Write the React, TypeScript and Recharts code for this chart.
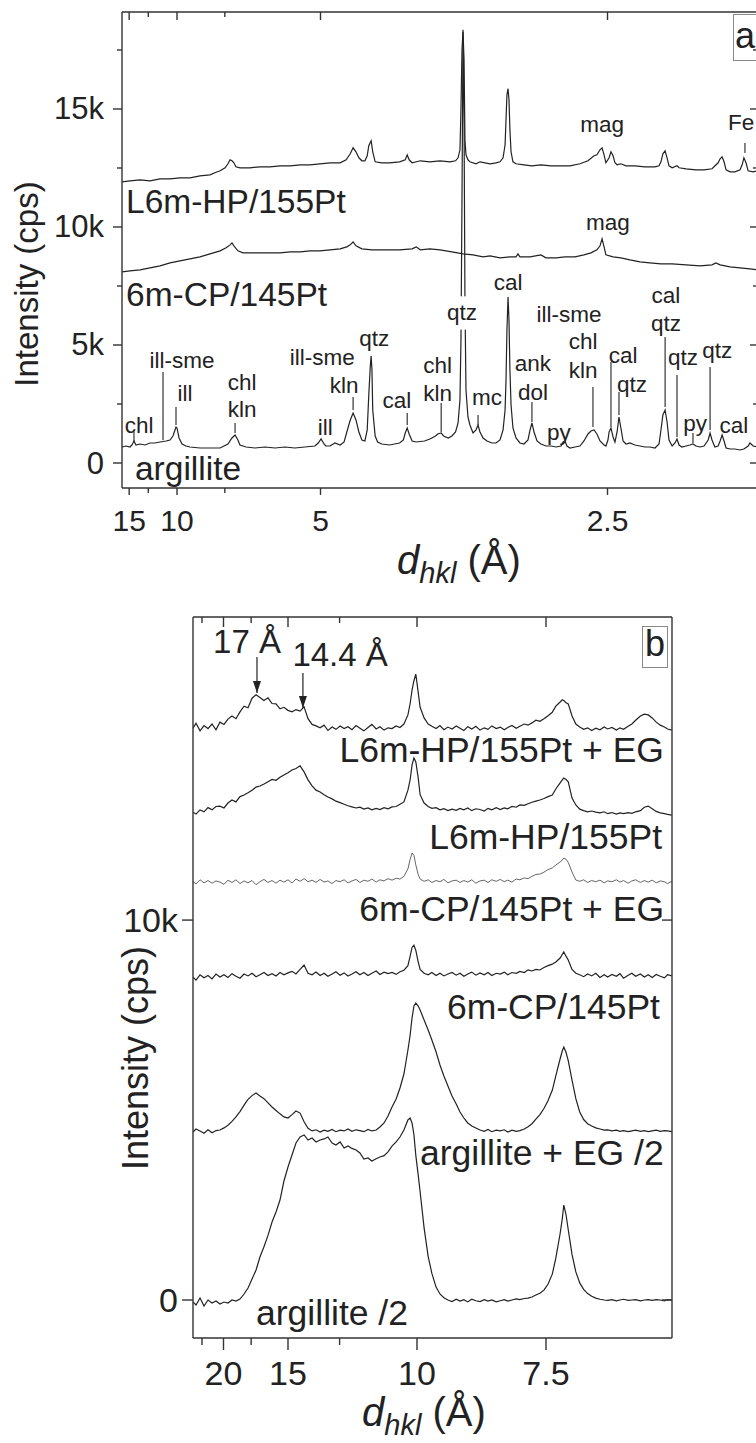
import React from 'react';
import { LineChart, Line, XAxis, YAxis, ReferenceLine, ReferenceDot } from 'recharts';

const FONT = '"Liberation Sans", Arial, Helvetica, sans-serif';
const INK = '#222';
const FRAME = '#333';

// ---------- panel a : [d (Å), intensity (cps)] ----------
const argilliteA: [number, number][] = [
  [16.21, 678], [15.51, 720], [14.87, 678], [14.57, 763], [14.28, 933], [14.0, 763], [13.47, 805], [12.87, 763],
  [12.32, 848], [11.81, 848], [11.34, 890], [10.83, 933], [10.51, 975], [10.29, 1145], [10.14, 1399], [10.07, 1526],
  [10.0, 1484], [9.86, 1060], [9.66, 805], [9.41, 720], [9.17, 678], [8.62, 636], [8.13, 636], [7.69, 636],
  [7.38, 805], [7.23, 1060], [7.12, 1187], [7.02, 975], [6.95, 763], [6.75, 678], [6.48, 636], [6.2, 678],
  [5.94, 636], [5.71, 678], [5.49, 636], [5.29, 678], [5.1, 720], [5.04, 848], [4.99, 1018], [4.94, 805],
  [4.91, 720], [4.84, 720], [4.76, 848], [4.68, 763], [4.62, 890], [4.58, 1314], [4.53, 1823], [4.49, 2120],
  [4.45, 1823], [4.41, 1314], [4.37, 975], [4.33, 933], [4.3, 1399], [4.28, 2883], [4.26, 4155], [4.25, 4537],
  [4.24, 3943], [4.23, 2247], [4.2, 1145], [4.17, 890], [4.12, 805], [4.03, 763], [3.92, 848], [3.88, 975],
  [3.86, 1272], [3.84, 1484], [3.82, 1230], [3.79, 933], [3.75, 890], [3.67, 933], [3.62, 1018], [3.57, 1145],
  [3.55, 1230], [3.52, 1272], [3.5, 1145], [3.46, 1060], [3.43, 1145], [3.4, 1314], [3.38, 1696], [3.365, 2671],
  [3.357, 5215], [3.349, 11151], [3.341, 18359], [3.333, 14543], [3.326, 6911], [3.318, 3095], [3.303, 1950],
  [3.288, 1611], [3.265, 1272], [3.243, 1399], [3.228, 1611], [3.214, 1314], [3.192, 1060], [3.164, 933],
  [3.13, 848], [3.103, 848], [3.076, 975], [3.056, 1399], [3.043, 2247], [3.037, 3519], [3.031, 5639],
  [3.024, 7038], [3.018, 6063], [3.012, 3943], [3.005, 2459], [2.993, 1484], [2.974, 1060], [2.95, 848],
  [2.926, 805], [2.902, 975], [2.89, 1399], [2.879, 1696], [2.867, 1314], [2.85, 933], [2.828, 805], [2.8, 720],
  [2.773, 720], [2.746, 678], [2.72, 720], [2.71, 890], [2.7, 933], [2.69, 720], [2.675, 636], [2.65, 678],
  [2.626, 720], [2.607, 933], [2.588, 1230], [2.574, 1357], [2.56, 1399], [2.547, 1230], [2.533, 933],
  [2.515, 763], [2.507, 720], [2.498, 975], [2.493, 1314], [2.485, 1484], [2.476, 1102], [2.468, 890],
  [2.459, 1314], [2.451, 1950], [2.443, 1484], [2.434, 933], [2.422, 805], [2.406, 848], [2.386, 763],
  [2.366, 720], [2.347, 678], [2.328, 678], [2.309, 636], [2.294, 805], [2.287, 1399], [2.28, 2035],
  [2.272, 2247], [2.265, 1738], [2.258, 975], [2.247, 720], [2.237, 848], [2.23, 1018], [2.223, 763],
  [2.213, 678], [2.199, 720], [2.186, 763], [2.176, 805], [2.166, 720], [2.153, 678], [2.14, 720], [2.127, 975],
  [2.121, 1272], [2.115, 975], [2.106, 678], [2.096, 720], [2.09, 933], [2.084, 1187], [2.078, 933],
  [2.072, 636], [2.06, 593], [2.046, 593], [2.031, 551], [2.02, 593], [2.008, 720], [2.003, 848], [1.994, 720],
  [1.981, 678],
];

const cpA: [number, number][] = [
  [16.21, 8098], [14.87, 8141], [13.47, 8183], [12.32, 8268], [11.34, 8353], [10.51, 8480], [9.8, 8565],
  [9.17, 8650], [8.62, 8734], [8.13, 8862], [7.69, 8989], [7.45, 9116], [7.3, 9243], [7.23, 9328], [7.16, 9201],
  [7.02, 8989], [6.85, 8904], [6.63, 8904], [6.34, 8904], [6.07, 8904], [5.82, 8904], [5.59, 8946], [5.38, 8946],
  [5.19, 8989], [5.01, 8989], [4.84, 9031], [4.68, 9074], [4.58, 9158], [4.53, 9243], [4.49, 9370], [4.45, 9201],
  [4.37, 9074], [4.24, 9031], [4.12, 9031], [3.92, 9031], [3.79, 9074], [3.75, 9158], [3.71, 9031], [3.62, 9074],
  [3.53, 9031], [3.43, 8946], [3.341, 8862], [3.265, 8819], [3.192, 8734], [3.143, 8777], [3.076, 8692],
  [3.012, 8734], [2.974, 8734], [2.962, 8862], [2.95, 8734], [2.89, 8734], [2.828, 8819], [2.8, 8692],
  [2.746, 8692], [2.7, 8734], [2.65, 8734], [2.607, 8819], [2.574, 8904], [2.547, 9031], [2.533, 9201],
  [2.524, 9498], [2.515, 9158], [2.507, 8819], [2.476, 8734], [2.443, 8692], [2.406, 8607], [2.366, 8522],
  [2.328, 8480], [2.287, 8438], [2.247, 8438], [2.199, 8395], [2.153, 8353], [2.115, 8395], [2.103, 8480],
  [2.09, 8395], [2.06, 8311], [2.031, 8268], [2.003, 8226], [1.981, 8183],
];

const hpA: [number, number][] = [
  [16.21, 11914], [14.87, 11957], [13.47, 11999], [12.32, 11957], [11.34, 12042], [10.51, 12042], [9.8, 12084],
  [9.17, 12084], [8.62, 12169], [8.13, 12211], [7.91, 12296], [7.69, 12381], [7.49, 12508], [7.38, 12678],
  [7.3, 12847], [7.23, 12805], [7.16, 12720], [7.09, 12550], [6.95, 12508], [6.63, 12508], [6.34, 12550],
  [6.07, 12550], [5.82, 12593], [5.59, 12593], [5.38, 12635], [5.19, 12635], [5.01, 12678], [4.84, 12720],
  [4.68, 12720], [4.59, 12847], [4.53, 13102], [4.49, 13356], [4.45, 13186], [4.41, 12932], [4.37, 12805],
  [4.33, 12805], [4.3, 13017], [4.28, 13441], [4.25, 13653], [4.23, 13186], [4.2, 12763], [4.12, 12720],
  [4.03, 12720], [3.92, 12762], [3.86, 12847], [3.84, 13059], [3.82, 12847], [3.79, 12720], [3.71, 12805],
  [3.62, 12762], [3.53, 12805], [3.445, 12762], [3.4, 12805], [3.38, 12932], [3.365, 13271], [3.357, 14967],
  [3.349, 17511], [3.341, 18274], [3.333, 17087], [3.326, 13695], [3.318, 13059], [3.303, 12847],
  [3.288, 12762], [3.243, 12678], [3.214, 12762], [3.143, 12678], [3.103, 12720], [3.076, 12762],
  [3.056, 12932], [3.043, 13483], [3.037, 14543], [3.031, 15603], [3.024, 15858], [3.018, 15391],
  [3.012, 14119], [3.005, 13186], [2.993, 12762], [2.974, 12678], [2.926, 12635], [2.879, 12593],
  [2.828, 12635], [2.773, 12593], [2.72, 12593], [2.675, 12593], [2.626, 12678], [2.588, 12805],
  [2.56, 13017], [2.547, 13059], [2.533, 13271], [2.524, 13356], [2.515, 13059], [2.507, 12720],
  [2.493, 12932], [2.485, 13186], [2.476, 13017], [2.468, 12720], [2.459, 12635], [2.443, 12678],
  [2.422, 12593], [2.386, 12593], [2.347, 12550], [2.309, 12550], [2.294, 12593], [2.287, 12762],
  [2.28, 13102], [2.272, 13229], [2.265, 12932], [2.258, 12593], [2.247, 12508], [2.23, 12593], [2.223, 12508],
  [2.199, 12466], [2.166, 12423], [2.14, 12423], [2.115, 12466], [2.096, 12720], [2.09, 12890], [2.084, 12974],
  [2.078, 12762], [2.072, 12423], [2.06, 12338], [2.046, 12338], [2.031, 12423], [2.025, 12635], [2.02, 12932],
  [2.014, 12720], [2.008, 12381], [1.994, 12338], [1.981, 12381],
];

const dTicksA = [15, 12.5, 10, 7.5, 5, 2.5];
const dLabelsA = [15, 10, 5, 2.5];
const iTicksA = [0, 2500, 5000, 7500, 10000, 12500, 15000, 17500];
const iLabelsA = [0, 5000, 10000, 15000];

// phase tags: [text, d, intensity, knockout]
const tagsA: [string, number, number, boolean?][] = [
  ['chl', 13.6, 1610], ['ill-sme', 9.66, 4364], ['ill', 9.47, 2966], ['chl', 6.88, 3390], ['kln', 6.88, 2246],
  ['ill', 4.92, 1525], ['ill-sme', 4.97, 4491], ['kln', 4.62, 3305], ['qtz', 4.21, 5296], ['cal', 3.95, 2669],
  ['chl', 3.55, 4152], ['kln', 3.55, 2966], ['qtz', 3.349, 6356, true], ['mc', 3.164, 2796], ['cal', 3.024, 7627],
  ['ank', 2.873, 4237], ['dol', 2.873, 3008], ['py', 2.731, 1313], ['ill-sme', 2.68, 6313], ['chl', 2.611, 5127],
  ['kln', 2.611, 3940], ['cal', 2.434, 4576], ['qtz', 2.398, 3347], ['cal', 2.269, 7118], ['qtz', 2.269, 5932],
  ['qtz', 2.209, 4491], ['py', 2.169, 1695], ['qtz', 2.099, 4788], ['cal', 2.049, 1610], ['mag', 2.524, 14363],
  ['Fe', 2.028, 14448], ['mag', 2.498, 10169],
];
// tag strokes: [d, from, to]
const marksA: [number, number, number][] = [
  [14.28, 1313, 890], [11.08, 3856, 975], [10.07, 2373, 1610], [7.12, 1695, 1271], [4.49, 2796, 2246],
  [3.84, 2119, 1610], [3.52, 2542, 1313], [3.228, 2034, 1610], [2.879, 2585, 1737], [2.565, 3220, 1525],
  [2.485, 4279, 1525], [2.451, 3008, 2034], [2.272, 5339, 2373], [2.23, 3729, 1102], [2.121, 4068, 1398],
  [2.176, 1271, 847], [2.017, 13558, 13135],
];
const namesA: [string, number, number][] = [
  ['L6m-HP/155Pt', 15.51, 11080], ['6m-CP/145Pt', 15.51, 7139], ['argillite', 14.14, -212],
];

// ---------- panel b : common d grid (Å) and intensities (cps) ----------
const dGridB = [
  23.74, 23.31, 22.76, 22.24, 21.74, 21.26, 20.81, 20.37, 19.95, 19.55,
  19.16, 18.79, 18.43, 18.08, 17.75, 17.43, 17.12, 16.83, 16.54, 16.26,
  15.99, 15.73, 15.48, 15.24, 15.0, 14.77, 14.55, 14.33, 14.12, 13.92,
  13.72, 13.53, 13.34, 13.16, 12.99, 12.81, 12.65, 12.48, 12.32, 12.17,
  12.02, 11.87, 11.73, 11.59, 11.45, 11.32, 11.18, 11.06, 10.93, 10.81,
  10.69, 10.57, 10.46, 10.35, 10.24, 10.18, 10.13, 10.08, 10.03, 9.97,
  9.92, 9.82, 9.72, 9.63, 9.53, 9.44, 9.35, 9.26, 9.17, 9.08,
  9.0, 8.92, 8.84, 8.76, 8.68, 8.6, 8.52, 8.45, 8.38, 8.3,
  8.23, 8.16, 8.1, 8.03, 7.96, 7.9, 7.83, 7.77, 7.71, 7.65,
  7.59, 7.53, 7.47, 7.41, 7.36, 7.3, 7.27, 7.25, 7.22, 7.19,
  7.14, 7.09, 7.04, 6.99, 6.94, 6.89, 6.84, 6.79, 6.74, 6.7,
  6.65, 6.6, 6.56, 6.52, 6.47, 6.43, 6.39, 6.34, 6.3, 6.26,
  6.22, 6.18, 6.14, 6.1, 6.07, 6.03,
];
const hpEgB = [
  15050, 15180, 14980, 15120, 15040, 15160, 15010, 15210, 15150, 15290,
  15370, 15300, 15480, 15630, 15590, 15840, 15930, 15860, 15780, 15850,
  15700, 15690, 15560, 15600, 15520, 15480, 15540, 15500, 15610, 15300,
  15150, 15110, 15060, 15130, 14990, 15080, 15020, 15110, 15040, 15090,
  15010, 15120, 15050, 14980, 15070, 15150, 15030, 15090, 15000, 15060,
  15040, 15110, 15070, 15160, 15400, 15700, 16050, 16300, 16470, 16000,
  15600, 15320, 15160, 15100, 15040, 15120, 15010, 15080, 15030, 15110,
  15050, 14990, 15090, 15030, 15100, 15000, 15060, 15020, 15110, 15040,
  15080, 15010, 15070, 15120, 15050, 15100, 15160, 15130, 15190, 15260,
  15230, 15300, 15380, 15470, 15630, 15740, 15800, 15780, 15720, 15690,
  15370, 15160, 15080, 15020, 15060, 14990, 15050, 15010, 15080, 15030,
  15070, 15000, 15060, 15020, 15100, 15160, 15260, 15370, 15420, 15400,
  15320, 15210, 15130, 15080, 15030, 15000,
];
const hpB = [
  12840, 12790, 12900, 12850, 12960, 12900, 12990, 13000, 12950, 13080,
  13160, 13110, 13250, 13290, 13350, 13420, 13500, 13530, 13580, 13640,
  13700, 13680, 13760, 13820, 13880, 13950, 13990, 14060, 13900, 13690,
  13530, 13420, 13370, 13300, 13240, 13190, 13130, 13090, 13050, 13010,
  12980, 12950, 12970, 12920, 12950, 12900, 12940, 12910, 12960, 12930,
  12980, 12990, 13050, 13110, 13420, 13700, 14080, 14265, 14160, 13750,
  13300, 13080, 12990, 12940, 12960, 12900, 12930, 12880, 12920, 12890,
  12940, 12900, 12950, 12880, 12930, 12910, 12870, 12940, 12900, 12960,
  12910, 12950, 12930, 12990, 12970, 13030, 13020, 13060, 13100, 13130,
  13160, 13200, 13250, 13290, 13450, 13610, 13690, 13740, 13700, 13640,
  13210, 13030, 12920, 12880, 12850, 12870, 12840, 12820, 12850, 12800,
  12830, 12790, 12820, 12800, 12830, 12810, 12850, 12880, 12970, 13000,
  12930, 12860, 12820, 12800, 12780, 12760,
];
const cpEgB = [
  11020, 10950, 11060, 10980, 11040, 10970, 11030, 11000, 10940, 11050,
  10990, 11060, 10960, 11030, 10980, 11040, 10930, 11010, 11070, 10990,
  11040, 10970, 11050, 11000, 11060, 10980, 11080, 11020, 11090, 11010,
  11050, 10990, 11070, 11000, 11030, 10960, 11040, 11010, 11060, 10980,
  11030, 11070, 10990, 11050, 11020, 11080, 11000, 11060, 11030, 11090,
  11050, 11100, 11080, 11150, 11350, 11600, 11765, 11700, 11450, 11200,
  11080, 11020, 11060, 10990, 11040, 11010, 11070, 10980, 11030, 11050,
  10990, 11040, 11000, 11060, 10970, 11030, 11050, 10990, 11060, 11020,
  11070, 11010, 11050, 11000, 11080, 11060, 11110, 11090, 11150, 11200,
  11210, 11260, 11330, 11370, 11450, 11530, 11580, 11633, 11600, 11520,
  11265, 11054, 11020, 11060, 10990, 11040, 11010, 11050, 10980, 11030,
  11010, 11060, 11000, 11040, 10970, 11030, 11060, 10990, 11040, 11000,
  11050, 10980, 11030, 11010, 10960, 11020,
];
const cpB = [
  8500, 8420, 8560, 8480, 8540, 8450, 8580, 8500, 8560, 8490,
  8590, 8520, 8470, 8580, 8530, 8600, 8510, 8560, 8620, 8540,
  8590, 8530, 8620, 8560, 8610, 8650, 8580, 8700, 8817, 8600,
  8560, 8630, 8540, 8600, 8520, 8580, 8640, 8550, 8610, 8530,
  8580, 8640, 8560, 8620, 8540, 8600, 8660, 8570, 8630, 8590,
  8620, 8570, 8640, 8680, 8800, 9050, 9280, 9340, 9200, 8900,
  8700, 8600, 8560, 8620, 8540, 8600, 8530, 8580, 8620, 8550,
  8600, 8520, 8580, 8630, 8550, 8610, 8560, 8620, 8540, 8600,
  8580, 8630, 8560, 8620, 8600, 8650, 8620, 8690, 8660, 8700,
  8686, 8750, 8800, 8840, 8896, 9000, 9100, 9159, 9050, 8950,
  8700, 8600, 8560, 8510, 8580, 8530, 8600, 8490, 8560, 8500,
  8570, 8520, 8590, 8470, 8550, 8600, 8520, 8580, 8500, 8560,
  8490, 8570, 8520, 8480, 8560, 8530,
];
const argEgB = [
  4422, 4500, 4450, 4390, 4480, 4400, 4460, 4474, 4530, 4600,
  4700, 4820, 4960, 5130, 5280, 5380, 5448, 5370, 5300, 5190,
  5080, 4990, 4900, 4820, 4790, 4880, 4974, 4920, 4690, 4520,
  4450, 4480, 4420, 4470, 4440, 4490, 4430, 4470, 4450, 4500,
  4440, 4480, 4460, 4430, 4490, 4450, 4474, 4553, 4659, 4843,
  5080, 5290, 5580, 5948, 6580, 6975, 7422, 7738, 7817, 7738,
  7633, 7370, 7106, 6843, 6527, 6185, 5896, 5632, 5369, 5159,
  4948, 4790, 4659, 4580, 4527, 4474, 4440, 4490, 4430, 4470,
  4450, 4480, 4420, 4470, 4440, 4460, 4500, 4560, 4640, 4760,
  4880, 5040, 5250, 5520, 5900, 6350, 6560, 6659, 6520, 6300,
  5790, 5300, 4950, 4750, 4640, 4580, 4530, 4500, 4470, 4480,
  4450, 4470, 4440, 4460, 4430, 4450, 4470, 4440, 4460, 4430,
  4450, 4470, 4440, 4460, 4450, 4430,
];
const argB = [
  -53, -132, 53, -158, 0, -79, -26, -105, -53, -79,
  0, -26, 26, 158, 316, 550, 790, 1132, 1400, 1700,
  2053, 2316, 2632, 3132, 3500, 3816, 4132, 4290, 4343, 4211,
  4264, 4160, 4211, 4240, 4290, 4132, 4080, 4160, 4001, 4053,
  3990, 3948, 3870, 3711, 3740, 3659, 3720, 3763, 3800, 3900,
  4050, 4160, 4290, 4474, 4740, 4790, 4660, 4350, 3800, 3300,
  2850, 1900, 1150, 700, 340, 160, 60, 0, -40, 20,
  -30, 10, -50, 20, -20, -40, 10, -30, 0, -50,
  -20, 10, -30, 0, 30, 10, 40, 50, 80, 130,
  180, 260, 420, 680, 1100, 1750, 2150, 2500, 2250, 1850,
  1200, 740, 450, 280, 170, 100, 50, 20, 0, -10,
  10, -20, 0, 20, -10, 0, 10, -20, 0, 10,
  -10, 10, 0, -20, 10, 0,
];

const dTicksB = [22.5, 20, 17.5, 15, 12.5, 10, 7.5];
const dLabelsB = [20, 15, 10, 7.5];
const iTicksB = [0, 10000];
const namesB: [string, number, number, string][] = [
  ['L6m-HP/155Pt + EG', 6.104, 14489, 'end'], ['L6m-HP/155Pt', 6.123, 12199, 'end'],
  ['6m-CP/145Pt + EG', 6.104, 10304, 'end'], ['6m-CP/145Pt', 6.143, 7725, 'end'],
  ['argillite + EG /2', 9.923, 3882, 'start'], ['argillite /2', 17.12, -342, 'start'],
];
const tagsB: [string, number, number][] = [['17 Å', 17.83, 17319], ['14.4 Å', 12.48, 17003]];
const arrowsB: [number, number, number][] = [[17.05, 16924, 15976], [14.18, 16503, 15581]];

// ---------- helpers ----------
const pairs = (pts: [number, number][]) => pts.map(([d, v]) => ({ q: 1 / d, v }));
const onGrid = (vals: number[]) => vals.map((v, i) => ({ q: 1 / dGridB[i], v }));
const isIn = (list: number[], x: number) => list.some((l) => Math.abs(l - x) < 1e-6);
const fmtD = (d: number) => String(Math.round(d * 10) / 10);
const fmtI = (v: number) => (v === 0 ? '0' : `${v / 1000}k`);

const downTick = (labels: number[], big: number, small: number, fs: number, gap: number, text: boolean) => (p: any) => {
  const d = 1 / p.payload.value;
  const major = isIn(labels, d);
  return (
    <g>
      <line x1={p.x} x2={p.x} y1={p.y} y2={p.y + (major ? big : small)} stroke={FRAME} strokeWidth={1.4} />
      {text && major && (
        <text x={p.x} y={p.y + gap} textAnchor="middle" dominantBaseline="central" fontSize={fs} fontFamily={FONT} fill={INK}>
          {fmtD(d)}
        </text>
      )}
    </g>
  );
};
const sideTick = (labels: number[], big: number, small: number, fs: number, gap: number, left: boolean) => (p: any) => {
  const v = p.payload.value;
  const major = isIn(labels, v);
  const len = major ? big : small;
  return (
    <g>
      <line x1={p.x - len} x2={p.x} y1={p.y} y2={p.y} stroke={FRAME} strokeWidth={1.4} />
      {left && major && (
        <text x={p.x - gap} y={p.y} textAnchor="end" dominantBaseline="central" fontSize={fs} fontFamily={FONT} fill={INK}>
          {fmtI(v)}
        </text>
      )}
    </g>
  );
};
const label = (text: string, fs: number, anchor: string, knock = false) => (p: any) => (
  <g>
    {knock && <rect x={p.cx - fs * 0.85} y={p.cy - fs * 0.74} width={fs * 1.7} height={fs * 1.48} fill="#fff" />}
    <text x={p.cx} y={p.cy} textAnchor={anchor} dominantBaseline="central" fontSize={fs} fontFamily={FONT} fill={INK}>
      {text}
    </text>
  </g>
);
const arrowHead = (p: any) => (
  <path d={`M${p.cx - 4},${p.cy - 12} L${p.cx + 4},${p.cy - 12} L${p.cx},${p.cy} Z`} fill={INK} />
);

const qA = dTicksA.map((d) => 1 / d);
const qB = dTicksB.map((d) => 1 / d);
const domAx: [number, number] = [0.061672, 0.504878];
const domAy: [number, number] = [-1059, 19109];
const domBx: [number, number] = [0.042119, 0.165891];
const domBy: [number, number] = [-1000, 17977];
const frame = { stroke: FRAME, strokeWidth: 1.4 };

const yTitle: React.CSSProperties = {
  position: 'absolute', width: 300, height: 40, lineHeight: '40px', textAlign: 'center',
  transform: 'rotate(-90deg)', fontFamily: FONT, color: INK, whiteSpace: 'nowrap',
};
const xTitle: React.CSSProperties = {
  position: 'absolute', fontFamily: FONT, fontSize: 40, lineHeight: '48px', color: INK, whiteSpace: 'nowrap',
};
const letterBox: React.CSSProperties = {
  position: 'absolute', border: '1px solid #888', fontFamily: FONT, fontSize: 36, textAlign: 'center', color: INK,
};

export default function App() {
  return (
    <div style={{ position: 'absolute', left: 0, top: 0, width: 756, height: 1443, overflow: 'hidden', background: '#fff' }}>
      {/* panel a: plot box x 122..758, y 12..488 */}
      <div style={{ position: 'absolute', left: 0, top: 0 }}>
        <LineChart width={770} height={560} margin={{ top: 11, right: 11, bottom: 71, left: 121 }}>
          <XAxis type="number" dataKey="q" domain={domAx} allowDataOverflow ticks={qA} interval={0} height={1}
            tickSize={0} tickMargin={0} tickLine={false} axisLine={frame} tick={downTick(dLabelsA, 7, 5, 30, 32, true)} />
          <XAxis xAxisId="top" orientation="top" type="number" dataKey="q" domain={domAx} allowDataOverflow ticks={qA}
            interval={0} height={1} tickSize={0} tickMargin={0} tickLine={false} axisLine={frame}
            tick={downTick(dLabelsA, 8, 5, 30, 0, false)} />
          <YAxis type="number" domain={domAy} allowDataOverflow ticks={iTicksA} interval={0} width={1} tickSize={0}
            tickMargin={0} tickLine={false} axisLine={frame} tick={sideTick(iLabelsA, 9, 5, 31, 18, true)} />
          <YAxis yAxisId="right" orientation="right" type="number" domain={domAy} allowDataOverflow ticks={iTicksA}
            interval={0} width={1} tickSize={0} tickMargin={0} tickLine={false} axisLine={frame}
            tick={sideTick(iLabelsA, 8, 5, 31, 0, false)} />
          <Line data={pairs(hpA)} dataKey="v" type="linear" dot={false} stroke={INK} strokeWidth={1.2} isAnimationActive={false} />
          <Line data={pairs(cpA)} dataKey="v" type="linear" dot={false} stroke={INK} strokeWidth={1.2} isAnimationActive={false} />
          <Line data={pairs(argilliteA)} dataKey="v" type="linear" dot={false} stroke={INK} strokeWidth={1.2} isAnimationActive={false} />
          {marksA.map(([d, a, b], i) => (
            <ReferenceLine key={`ma${i}`} segment={[{ x: 1 / d, y: a }, { x: 1 / d, y: b }]} stroke={INK} strokeWidth={1.1} ifOverflow="visible" />
          ))}
          {tagsA.map(([t, d, v, k], i) => (
            <ReferenceDot key={`ta${i}`} x={1 / d} y={v} r={1} ifOverflow="visible" shape={label(t, 22.5, 'middle', !!k)} />
          ))}
          {namesA.map(([t, d, v], i) => (
            <ReferenceDot key={`na${i}`} x={1 / d} y={v} r={1} ifOverflow="visible" shape={label(t, 33.5, 'start')} />
          ))}
        </LineChart>
      </div>

      {/* panel b: plot box x 193..672, y 617..1338 */}
      <div style={{ position: 'absolute', left: 0, top: 560 }}>
        <LineChart width={756} height={883} margin={{ top: 56, right: 83, bottom: 104, left: 192 }}>
          <XAxis type="number" dataKey="q" domain={domBx} allowDataOverflow ticks={qB} interval={0} height={1}
            tickSize={0} tickMargin={0} tickLine={false} axisLine={frame} tick={downTick(dLabelsB, 12, 7, 34, 35, true)} />
          <XAxis xAxisId="top" orientation="top" type="number" dataKey="q" domain={domBx} allowDataOverflow ticks={qB}
            interval={0} height={1} tickSize={0} tickMargin={0} tickLine={false} axisLine={frame}
            tick={downTick(dLabelsB, 10, 6, 34, 0, false)} />
          <YAxis type="number" domain={domBy} allowDataOverflow ticks={iTicksB} interval={0} width={1} tickSize={0}
            tickMargin={0} tickLine={false} axisLine={frame} tick={sideTick(iTicksB, 11, 6, 34, 15, true)} />
          <YAxis yAxisId="right" orientation="right" type="number" domain={domBy} allowDataOverflow ticks={iTicksB}
            interval={0} width={1} tickSize={0} tickMargin={0} tickLine={false} axisLine={frame}
            tick={sideTick(iTicksB, 10, 6, 34, 0, false)} />
          <Line data={onGrid(hpEgB)} dataKey="v" type="linear" dot={false} stroke={INK} strokeWidth={1.2} isAnimationActive={false} />
          <Line data={onGrid(hpB)} dataKey="v" type="linear" dot={false} stroke={INK} strokeWidth={1.2} isAnimationActive={false} />
          <Line data={onGrid(cpEgB)} dataKey="v" type="linear" dot={false} stroke="#555" strokeWidth={0.9} isAnimationActive={false} />
          <Line data={onGrid(cpB)} dataKey="v" type="linear" dot={false} stroke={INK} strokeWidth={1.2} isAnimationActive={false} />
          <Line data={onGrid(argEgB)} dataKey="v" type="linear" dot={false} stroke={INK} strokeWidth={1.2} isAnimationActive={false} />
          <Line data={onGrid(argB)} dataKey="v" type="linear" dot={false} stroke={INK} strokeWidth={1.2} isAnimationActive={false} />
          {arrowsB.map(([d, a, b], i) => (
            <ReferenceLine key={`ab${i}`} segment={[{ x: 1 / d, y: a }, { x: 1 / d, y: b }]} stroke={INK} strokeWidth={1.2} ifOverflow="visible" />
          ))}
          {arrowsB.map(([d, , b], i) => (
            <ReferenceDot key={`ah${i}`} x={1 / d} y={b} r={1} ifOverflow="visible" shape={arrowHead} />
          ))}
          {tagsB.map(([t, d, v], i) => (
            <ReferenceDot key={`tb${i}`} x={1 / d} y={v} r={1} ifOverflow="visible" shape={label(t, 33, 'middle')} />
          ))}
          {namesB.map(([t, d, v, a], i) => (
            <ReferenceDot key={`nb${i}`} x={1 / d} y={v} r={1} ifOverflow="visible" shape={label(t, 35.5, a)} />
          ))}
        </LineChart>
      </div>

      {/* axis titles and panel letters */}
      <div style={{ ...yTitle, left: 27 - 150, top: 284 - 20, fontSize: 33 }}>Intensity (cps)</div>
      <div style={{ ...yTitle, left: 136 - 150, top: 1058 - 20, fontSize: 36 }}>Intensity (cps)</div>
      <div style={{ ...xTitle, left: 397, top: 536 }}>
        <i>d</i><sub style={{ fontSize: 29, verticalAlign: '-9px' }}><i>hkl</i></sub> (Å)
      </div>
      <div style={{ ...xTitle, left: 362, top: 1388 }}>
        <i>d</i><sub style={{ fontSize: 29, verticalAlign: '-9px' }}><i>hkl</i></sub> (Å)
      </div>
      <div style={{ ...letterBox, left: 733, top: 14, width: 22, height: 45, lineHeight: '42px' }}>a</div>
      <div style={{ ...letterBox, left: 642, top: 626, width: 24, height: 40, lineHeight: '34px' }}>b</div>
    </div>
  );
}
